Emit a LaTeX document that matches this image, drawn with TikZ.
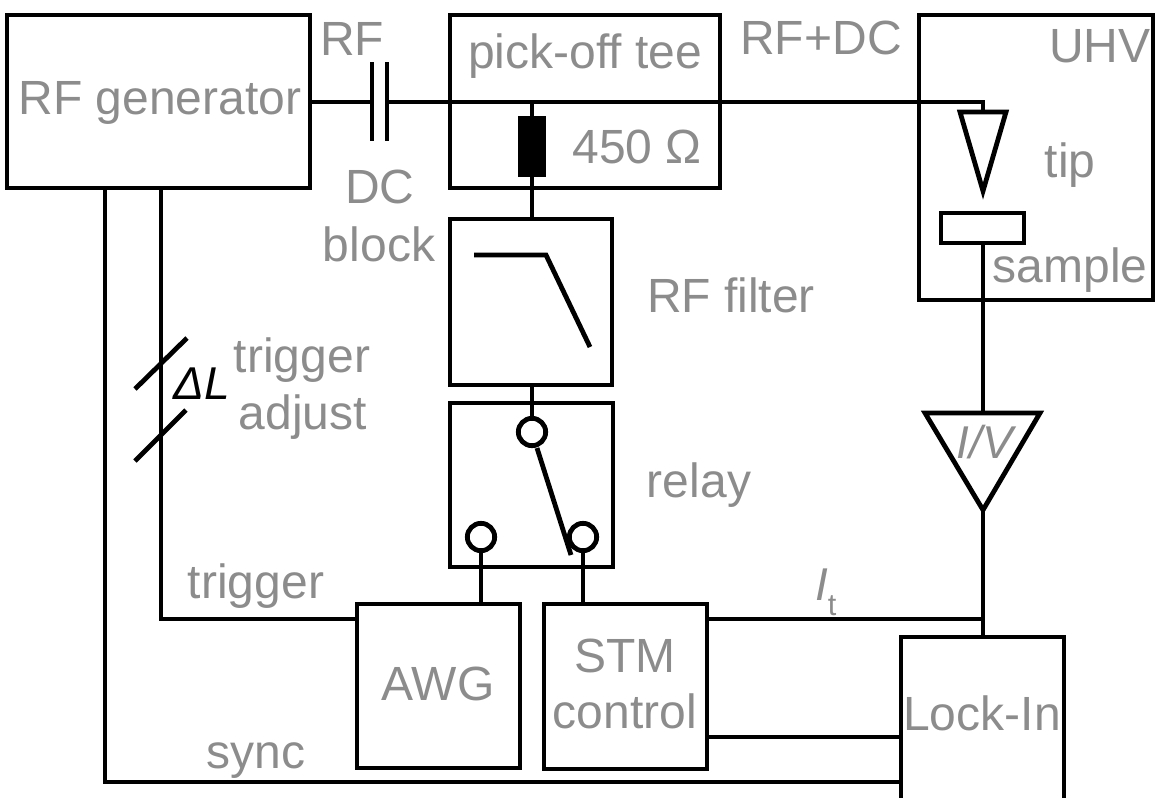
\documentclass[tikz,border=0pt]{standalone}
\usepackage{fontspec}
\setmainfont{Liberation Sans}
\definecolor{lab}{HTML}{8C8C8C}
\newcommand{\pxbox}[5]{\node[boxn,minimum width={(#4-#2)*0.75pt},minimum height={(#5-#3)*0.75pt}] (#1) at ({(#2+#4)/2},{(#3+#5)/2}) {};}
\tikzset{
  boxn/.style={draw=black,line width=3.7pt,inner sep=0pt,outer sep=0pt,rectangle},
  wire/.style={draw=black,line width=3.6pt},
  lab/.style={text=lab,font=\fontsize{36}{43}\selectfont,anchor=base,inner sep=0pt,outer sep=0pt},
  port/.style={circle,draw=black,fill=white,line width=3.6pt,minimum size=20.5pt,inner sep=0pt,outer sep=0pt},
}
\begin{document}
\begin{tikzpicture}[x=0.75pt,y=-0.75pt,line join=miter]
\useasboundingbox (0,0) rectangle (1156,797);
\clip (0,0) rectangle (1156,797);
% boxes
\pxbox{rf}{7}{15}{310}{188}
\pxbox{tee}{450}{15}{720}{188}
\pxbox{filter}{450}{219}{612}{385}
\pxbox{relay}{450}{403}{613}{567}
\pxbox{awg}{357}{604}{520}{768}
\pxbox{stm}{544}{604}{707}{769}
\pxbox{lock}{901}{637}{1064}{803}
\pxbox{uhv}{919}{15}{1153}{300}
\pxbox{sample}{941}{213}{1024}{243}
% helper coordinates
\coordinate (capL) at (372,102);
\coordinate (capR) at (387,102);
\coordinate (capLt) at (372,62);
\coordinate (capLb) at (372,141);
\coordinate (capRt) at (387,62);
\coordinate (capRb) at (387,141);
\coordinate (tj) at (532,102);
\coordinate (corner) at (983,102);
\coordinate (tipT) at (983,112);
\coordinate (tipA) at (960,112);
\coordinate (tipB) at (1006,112);
\coordinate (tipC) at (983,191);
\coordinate (ivA) at (925,413);
\coordinate (ivB) at (1040,413);
\coordinate (ivC) at (983,510);
\coordinate (ivT) at (983,413);
\coordinate (itj) at (983,619);
\coordinate (trigC) at (161,619);
\coordinate (trigT) at (161,188);
\coordinate (syncC) at (105,782);
\coordinate (syncT) at (105,188);
% resistor
\node[draw=black,fill=black,line width=1pt,inner sep=0pt,outer sep=0pt,minimum width=20pt,minimum height=45pt] (res) at (532,146.5) {};
% wires
\draw[wire] (rf.east |- capL) -- (capL);
\draw[wire] (capR) -- (corner) -- (tipT);
\draw[wire] (tj) -- (res.north);
\draw[wire] (res.south) -- (filter.north -| res);
\draw[wire] (capLt) -- (capLb);
\draw[wire] (capRt) -- (capRb);
\draw[wire,miter limit=10] (tipA) -- (tipB) -- (tipC) -- cycle;
\draw[wire] (sample.south -| ivT) -- (ivT);
\draw[wire,miter limit=10] (ivA) -- (ivB) -- (ivC) -- cycle;
\draw[wire] (ivC) -- (lock.north -| ivC);
\draw[wire] (stm.east |- itj) -- (itj);
\draw[wire] (stm.east |- 0,737) -- (lock.west |- 0,737);
\draw[wire] (trigT) -- (trigC) -- (awg.west |- trigC);
\draw[wire] (syncT) -- (syncC) -- (lock.west |- syncC);
% filter symbol
\coordinate (fa) at (474,255);
\coordinate (fb) at (546,255);
\coordinate (fc) at (590,347);
\draw[wire] (fa) -- (fb) -- (fc);
% relay
\coordinate (pcT) at (532,432);
\draw[wire] (filter.south -| pcT) -- (pcT);
\node[port] (p1) at (532,432) {};
\node[port] (p2) at (481,537) {};
\node[port] (p3) at (583,537) {};
\draw[wire] (p2.south) -- (awg.north -| p2);
\draw[wire] (p3.south) -- (stm.north -| p3);
\coordinate (swE) at (571,555);
\draw[wire] (p1) ++(5,16) coordinate (swS) (swS) -- (swE);
% delta L slashes
\coordinate (s1a) at (135,389); \coordinate (s1b) at (187,338);
\coordinate (s2a) at (135,461); \coordinate (s2b) at (186,410);
\draw[wire] (s1a) -- (s1b);
\draw[wire] (s2a) -- (s2b);
% labels
\node[lab] (tRFgen) at (160,114) {RF generator};
\node[lab] (tRF) at (352,55) {RF};
\node[lab] (tTee) at (585,68) {pick-off tee};
\node[lab] (tOhm) at (637,163) {450 Ω};
\node[lab] (tDC) at (380,203) {DC};
\node[lab] (tBlock) at (379,261) {block};
\node[lab] (tRFDC) at (821,54) {RF+DC};
\node[lab] (tUHV) at (1100,62) {UHV};
\node[lab] (tTip) at (1070,177) {tip};
\node[lab] (tSample) at (1070,282) {sample};
\node[lab] (tFilter) at (731,312) {RF filter};
\node[lab] (tRelay) at (699,497) {relay};
\node[lab] (tTrigA) at (302,372) {trigger};
\node[lab] (tTrigB) at (303,429) {adjust};
\node[lab] (tTrig) at (256,598) {trigger};
\node[lab] (tSync) at (256,768) {sync};
\node[lab] (tAWG) at (438,700) {AWG};
\node[lab] (tSTM) at (625,672) {STM};
\node[lab] (tCtrl) at (625,728) {control};
\node[lab] (tLock) at (982,730) {Lock-In};
\node[lab,font=\fontsize{34.5}{41}\itshape] (tIV) at (985,458) {I/V};
\node[lab,font=\fontsize{34.5}{41}\itshape] (tI) at (822,600) {I};
\node[lab,font=\fontsize{23}{28}\selectfont] (tt) at (832,615) {t};
\node[lab,text=black,font=\fontsize{34.5}{41}\itshape] (tDL) at (202,399) {ΔL};
\end{tikzpicture}
\end{document}
